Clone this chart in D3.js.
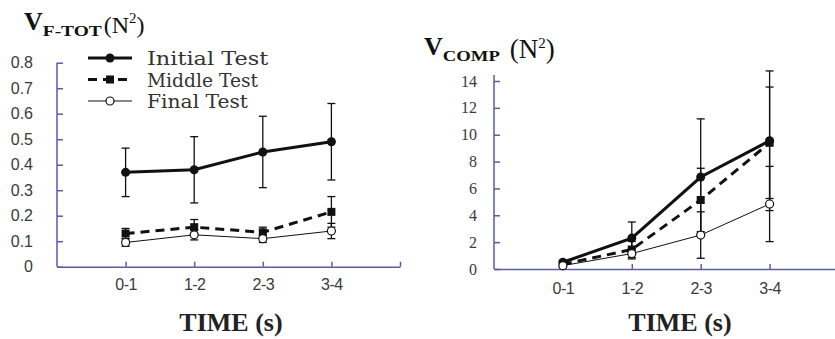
<!DOCTYPE html>
<html>
<head>
<meta charset="utf-8">
<script src="https://cdn.jsdelivr.net/npm/d3@7"></script>
<style>
  body { margin: 0; background: #fff; }
  svg { display: block; }
  .serif { font-family: "Liberation Serif", "Times New Roman", serif; }
</style>
</head>
<body>
<div id="chart"></div>
<script>
// values
const categories = ['0-1', '1-2', '2-3', '3-4'];

const ftotInitial = [0.37, 0.38, 0.45, 0.49];
const ftotInitialErr = [0.095, 0.13, 0.14, 0.15];
const ftotMiddle = [0.13, 0.155, 0.135, 0.215];
const ftotMiddleErr = [0.02, 0.03, 0.02, 0.06];
const ftotFinal = [0.095, 0.125, 0.11, 0.14];
const ftotFinalErr = [0.015, 0.02, 0.015, 0.03];
const ftotTicks = [0, 0.1, 0.2, 0.3, 0.4, 0.5, 0.6, 0.7, 0.8];

const compInitial = [0.5, 2.3, 6.85, 9.55];
const compInitialErr = [0.15, 1.2, 4.33, 5.2];
const compMiddle = [0.35, 1.45, 5.14, 9.4];
const compMiddleErr = [0.1, 0.6, 2.36, 4.15];
const compFinal = [0.25, 1.15, 2.53, 4.84];
const compFinalErr = [0.1, 0.4, 1.73, 2.8];
const compTicks = [0, 2, 4, 6, 8, 10, 12, 14];

const seriesNames = ['Initial Test', 'Middle Test', 'Final Test'];

const width = 835, height = 339;
const axisColor = '#5b5ba6';

const svg = d3.select('#chart').append('svg')
  .attr('width', width)
  .attr('height', height);

// how each series is drawn
const styles = [
  {width: 3, dash: null, marker: 'dot'},
  {width: 3, dash: '9,6', marker: 'square'},
  {width: 1, dash: null, marker: 'ring'}
];

function drawMarker(g, kind, cx, cy) {
  if (kind === 'dot') {
    g.append('circle').attr('cx', cx).attr('cy', cy).attr('r', 4.5).attr('fill', '#111');
  } else if (kind === 'square') {
    g.append('rect').attr('x', cx - 4).attr('y', cy - 4).attr('width', 8).attr('height', 8).attr('fill', '#111');
  } else {
    g.append('circle').attr('cx', cx).attr('cy', cy).attr('r', 4)
      .attr('fill', '#fff').attr('stroke', '#111').attr('stroke-width', 1.2);
  }
}

function drawChart(opt) {
  const g = svg.append('g');
  const x = d3.scaleLinear().domain([0, 5]).range([opt.x0, opt.x0 + 5 * opt.step]);
  const y = d3.scaleLinear().domain([0, opt.yMax]).range([opt.yZero, opt.yTop]);

  // y axis
  const yAxis = d3.axisLeft(y)
    .tickValues(opt.ticks)
    .tickSizeInner(-6)
    .tickSizeOuter(0)
    .tickPadding(opt.labelPad)
    .tickFormat(opt.fmt);
  const ya = g.append('g').attr('transform', `translate(${opt.x0},0)`).call(yAxis);
  ya.select('.domain').remove();
  ya.selectAll('.tick line').attr('stroke', axisColor).attr('stroke-width', 1.5);
  ya.selectAll('.tick text')
    .attr('fill', '#3a3a3a')
    .style('font-family', opt.tickFont)
    .style('font-size', '16px');
  g.append('line')
    .attr('x1', opt.x0).attr('x2', opt.x0)
    .attr('y1', y(0)).attr('y2', y(opt.axisTopValue))
    .attr('stroke', axisColor).attr('stroke-width', 1.5);

  // x axis
  const xAxis = d3.axisBottom(x)
    .tickValues([1, 2, 3, 4, 5])
    .tickSizeInner(-5)
    .tickSizeOuter(0)
    .tickPadding(opt.xLabelPad)
    .tickFormat(i => categories[i - 1] || '');
  const xa = g.append('g').attr('transform', `translate(0,${y(0)})`).call(xAxis);
  xa.select('.domain').attr('stroke', axisColor).attr('stroke-width', 1.5);
  xa.selectAll('.tick line').attr('stroke', axisColor).attr('stroke-width', 1.5);
  xa.selectAll('.tick text')
    .attr('fill', '#3a3a3a')
    .style('font-family', '"Liberation Sans", sans-serif')
    .style('font-size', '16px')
    .style('letter-spacing', '-0.5px');

  g.append('text')
    .attr('class', 'serif')
    .attr('x', opt.timeX).attr('y', opt.timeY)
    .attr('text-anchor', 'middle')
    .style('font-weight', 'bold')
    .style('font-size', '26px')
    .attr('fill', '#222')
    .text('TIME (s)');

  // series: lines, error bars, markers
  opt.series.forEach((s, k) => {
    const st = styles[k];
    const pts = s.values.map((v, i) => [x(i + 1), y(v)]);
    g.append('path')
      .attr('d', d3.line()(pts))
      .attr('fill', 'none')
      .attr('stroke', '#111')
      .attr('stroke-width', st.width)
      .attr('stroke-dasharray', st.dash);
    s.values.forEach((v, i) => {
      const cx = x(i + 1);
      const lo = y(v - s.err[i]), hi = y(v + s.err[i]);
      g.append('line').attr('x1', cx).attr('x2', cx).attr('y1', lo).attr('y2', hi)
        .attr('stroke', '#111').attr('stroke-width', 1.3);
      [lo, hi].forEach(yy => {
        g.append('line').attr('x1', cx - 4).attr('x2', cx + 4).attr('y1', yy).attr('y2', yy)
          .attr('stroke', '#111').attr('stroke-width', 1.3);
      });
    });
    s.values.forEach((v, i) => drawMarker(g, st.marker, x(i + 1), y(v)));
  });

  // title: V with subscript and (N²)
  const t = g.append('text')
    .attr('class', 'serif')
    .attr('x', opt.titleX).attr('y', opt.titleY)
    .attr('fill', '#111');
  t.append('tspan').attr('class', 'serif').style('font-weight', 'bold').style('font-size', '26px').text('V');
  t.append('tspan').attr('class', 'serif').attr('dy', 6).style('font-weight', 'bold').style('font-size', '15px')
    .attr('textLength', opt.subLen).attr('lengthAdjust', 'spacingAndGlyphs').text(opt.sub);
  t.append('tspan').attr('class', 'serif').attr('dy', -3).attr('dx', opt.subGap).style('font-size', opt.nSize + 'px').text('(N');
  t.append('tspan').attr('class', 'serif').attr('dy', -10).style('font-size', '15px').text('2');
  t.append('tspan').attr('class', 'serif').attr('dy', 10).style('font-size', opt.nSize + 'px').text(')');

  return {x, y};
}

drawChart({
  x0: 57, step: 68.6, yZero: 266.7, yTop: 62.7, yMax: 0.8, axisTopValue: 0.8,
  ticks: ftotTicks, fmt: d => d === 0 ? '0' : d3.format('.1f')(d),
  labelPad: 24, xLabelPad: 12, tickFont: '"Liberation Sans", sans-serif',
  timeX: 231, timeY: 331,
  titleX: 24, titleY: 30, sub: 'F-TOT', subLen: 59, subGap: 2, nSize: 24,
  series: [
    {values: ftotInitial, err: ftotInitialErr},
    {values: ftotMiddle, err: ftotMiddleErr},
    {values: ftotFinal, err: ftotFinalErr}
  ]
});

drawChart({
  x0: 494, step: 68.9, yZero: 269, yTop: 81, yMax: 14, axisTopValue: 14.45,
  ticks: compTicks, fmt: d3.format('d'),
  labelPad: 17, xLabelPad: 14, tickFont: '"Liberation Serif", serif',
  timeX: 680, timeY: 331,
  titleX: 424, titleY: 55, sub: 'COMP', subLen: 57, subGap: 10, nSize: 27,
  series: [
    {values: compInitial, err: compInitialErr},
    {values: compMiddle, err: compMiddleErr},
    {values: compFinal, err: compFinalErr}
  ]
});

// legend (left panel only)
const legend = svg.append('g');
seriesNames.forEach((name, k) => {
  const st = styles[k];
  const ly = 58 + k * 21.5;
  legend.append('line')
    .attr('x1', 88).attr('x2', 132).attr('y1', ly).attr('y2', ly)
    .attr('stroke', '#111').attr('stroke-width', st.width)
    .attr('stroke-dasharray', st.dash);
  drawMarker(legend, st.marker, 110, ly);
  legend.append('text')
    .attr('x', 147).attr('y', ly + 7)
    .style('font-family', '"DejaVu Serif", serif')
    .style('font-size', '19px')
    .attr('fill', '#333')
    .attr('textLength', name.length * 10.1)
    .attr('lengthAdjust', 'spacingAndGlyphs')
    .text(name);
});
</script>
</body>
</html>
